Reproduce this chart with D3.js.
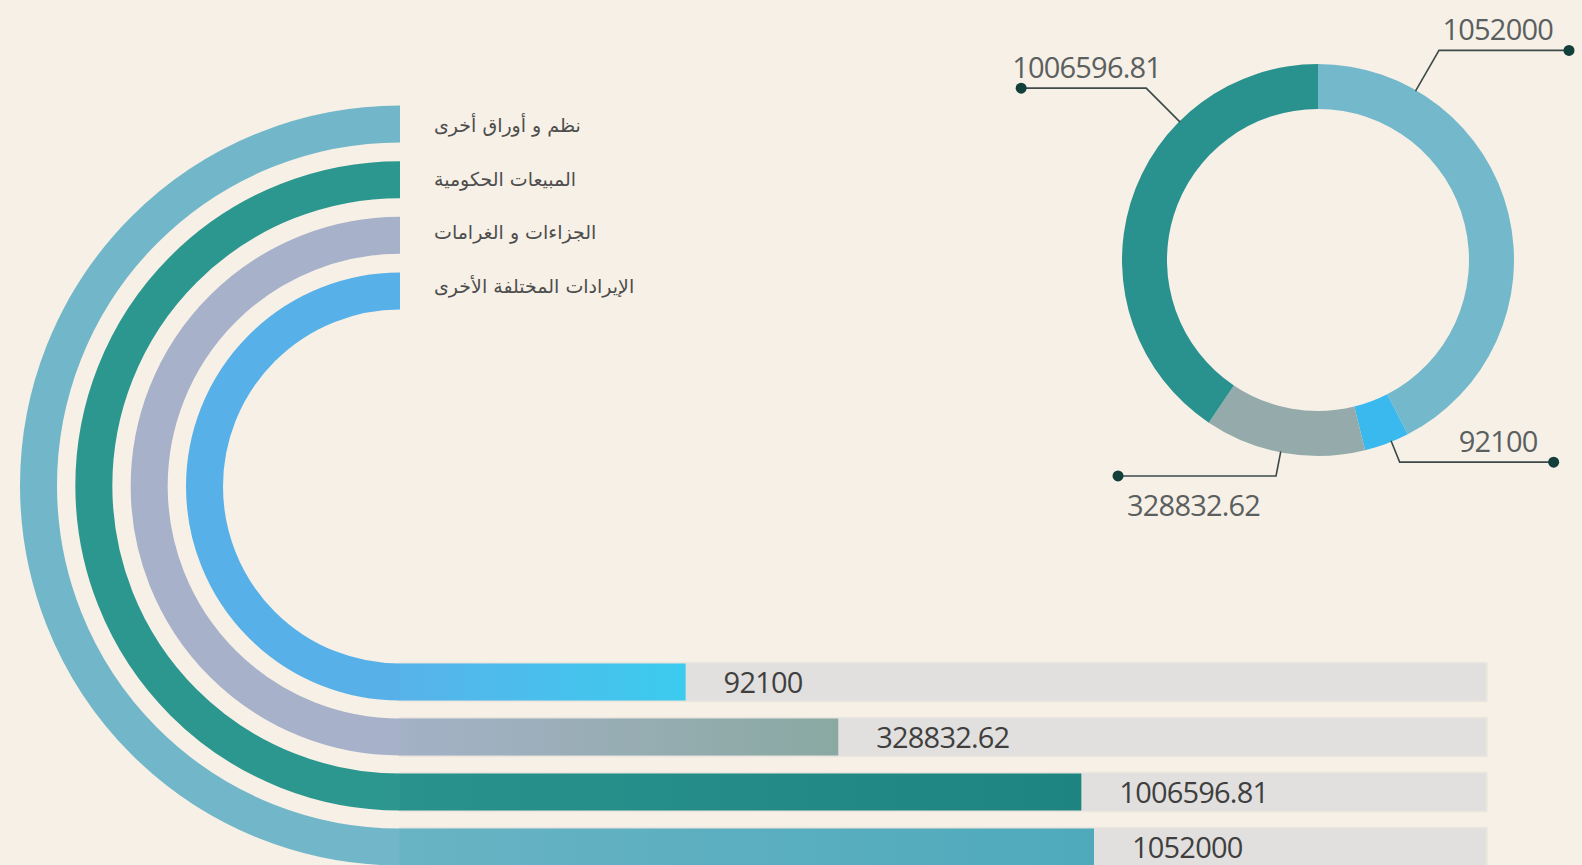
<!DOCTYPE html>
<html>
<head>
<meta charset="utf-8">
<script src="https://cdn.jsdelivr.net/npm/d3@7"></script>
<style>
  html, body { margin: 0; padding: 0; background: #f7f0e6; }
  #container { width: 1582px; height: 865px; overflow: hidden; }
</style>
</head>
<body>
<div id="container"></div>
<script>
// categories, outer ring first
var categories = ["نظم و أوراق أخرى", "المبيعات الحكومية", "الجزاءات و الغرامات", "الإيرادات المختلفة الأخرى"];
var values = [1052000, 1006596.81, 328832.62, 92100];
var valueLabels = ["1052000", "1006596.81", "328832.62", "92100"];
// order of the slices in the donut, clockwise from the top
var donutOrder = ["نظم و أوراق أخرى", "الإيرادات المختلفة الأخرى", "الجزاءات و الغرامات", "المبيعات الحكومية"];

var OPTS = {
  width: 1582,
  height: 865,
  ringX: 400,
  band: 37,
  trackEnd: 1487,
  donutX: 1318,
  donutY: 260,
  innerR: 151,
  outerR: 196
};

var ringColor = ["#71b7c9", "#2c978f", "#a7b1ca", "#57b1e8"];
var barFrom = ["#68b3c4", "#2a928d", "#a4b1c6", "#57b3ea"];
var barTo = ["#4eaabb", "#1e8482", "#8aa9a2", "#3ccbef"];
var sliceColor = ["#74b9cb", "#2a928e", "#95abab", "#3ab9ee"];

// leader layout per slice: angle on ring (deg), elbow radius, line length, side
var leaders = {
  "نظم و أوراق أخرى": { angle: 30, elbow: 242, len: 130, side: 1, labelPos: "above" },
  "الإيرادات المختلفة الأخرى": { angle: 158, elbow: 218, len: 154, side: 1, labelPos: "above" },
  "الجزاءات و الغرامات": { angle: 191, elbow: 220, len: 158, side: -1, labelPos: "below" },
  "المبيعات الحكومية": { angle: 315, elbow: 243, len: 125, side: -1, labelPos: "above" }
};

var svg = d3.select("#container").append("svg")
  .attr("width", OPTS.width)
  .attr("height", OPTS.height);

svg.append("rect").attr("width", OPTS.width).attr("height", OPTS.height).attr("fill", "#f7f0e6");

var defs = svg.append("defs");

// vertical positions of the ring ends
var topY = d3.scalePoint().domain(categories).range([124, 291]);
var bottomY = d3.scalePoint().domain(categories).range([847, 682]);
var legendY = d3.scalePoint().domain(categories).range([125, 286]);

// bar length: the design stretches small values, a sqrt scale follows it well
var x = d3.scaleSqrt().domain([0, d3.max(values)]).range([514, 1094]);

var rings = svg.append("g").attr("class", "rings");

categories.forEach(function(c, i) {
  var t = topY(c), b = bottomY(c);
  var r = (b - t) / 2;
  var xEnd = x(values[i]);

  var grad = defs.append("linearGradient")
    .attr("id", "bar" + i)
    .attr("gradientUnits", "userSpaceOnUse")
    .attr("x1", OPTS.ringX).attr("x2", xEnd)
    .attr("y1", 0).attr("y2", 0);
  grad.append("stop").attr("offset", 0).attr("stop-color", barFrom[i]);
  grad.append("stop").attr("offset", 1).attr("stop-color", barTo[i]);

  // grey track
  rings.append("rect")
    .attr("x", OPTS.ringX)
    .attr("y", b - OPTS.band / 2 - 1)
    .attr("width", OPTS.trackEnd - OPTS.ringX)
    .attr("height", OPTS.band + 2)
    .attr("fill", "#e1e0de")
    .attr("stroke", "#ece7de")
    .attr("stroke-width", 1.5);

  // half ring
  rings.append("path")
    .attr("d", "M" + OPTS.ringX + "," + t + " A" + r + "," + r + " 0 0 0 " + OPTS.ringX + "," + b)
    .attr("fill", "none")
    .attr("stroke", ringColor[i])
    .attr("stroke-width", OPTS.band);

  // value bar
  rings.append("rect")
    .attr("x", OPTS.ringX - 0.5)
    .attr("y", b - OPTS.band / 2)
    .attr("width", xEnd - OPTS.ringX + 0.5)
    .attr("height", OPTS.band)
    .attr("fill", "url(#bar" + i + ")");

  rings.append("text")
    .attr("x", xEnd + 38)
    .attr("y", b - 1)
    .attr("dominant-baseline", "central")
    .attr("font-family", "'Open Sans', sans-serif")
    .attr("font-size", 29)
    .attr("letter-spacing", -0.8)
    .attr("fill", "#3f3f3f")
    .text(valueLabels[i]);

  // legend label next to the ring end
  rings.append("text")
    .attr("x", 434)
    .attr("y", legendY(c))
    .attr("dominant-baseline", "central")
    .attr("font-family", "'DejaVu Sans', sans-serif")
    .attr("font-size", 19)
    .attr("fill", "#4d4d4d")
    .text(c);
});

// donut
var byName = {};
categories.forEach(function(c, i) { byName[c] = { name: c, value: values[i], label: valueLabels[i], color: sliceColor[i] }; });
var donutData = donutOrder.map(function(c) { return byName[c]; });

var pie = d3.pie().sort(null).value(function(d) { return d.value; });
var arc = d3.arc().innerRadius(OPTS.innerR).outerRadius(OPTS.outerR);

var donut = svg.append("g")
  .attr("transform", "translate(" + OPTS.donutX + "," + OPTS.donutY + ")");

donut.selectAll("path.slice")
  .data(pie(donutData))
  .enter().append("path")
    .attr("class", "slice")
    .attr("d", arc)
    .attr("fill", function(d) { return d.data.color; });

var toRad = Math.PI / 180;
function polar(angle, r) {
  return [r * Math.sin(angle * toRad), -r * Math.cos(angle * toRad)];
}

donutData.forEach(function(d) {
  var L = leaders[d.name];
  var a = polar(L.angle, OPTS.outerR - 1);
  var e = polar(L.angle, L.elbow);
  var dot = [e[0] + L.side * L.len, e[1]];

  donut.append("polyline")
    .attr("points", [a, e, dot].map(function(p) { return p.join(","); }).join(" "))
    .attr("fill", "none")
    .attr("stroke", "#3c4a48")
    .attr("stroke-width", 1.6);

  donut.append("circle")
    .attr("cx", dot[0]).attr("cy", dot[1])
    .attr("r", 5.5)
    .attr("fill", "#123f3a");

  donut.append("text")
    .attr("x", L.side > 0 ? dot[0] - 16 : dot[0] + (L.labelPos == "below" ? 9 : -9))
    .attr("y", L.labelPos == "below" ? dot[1] + 40 : dot[1] - 10)
    .attr("text-anchor", L.side > 0 ? "end" : "start")
    .attr("font-family", "'Open Sans', sans-serif")
    .attr("font-size", 29)
    .attr("letter-spacing", -0.8)
    .attr("fill", "#5a5f5f")
    .text(d.label);
});
</script>
</body>
</html>
